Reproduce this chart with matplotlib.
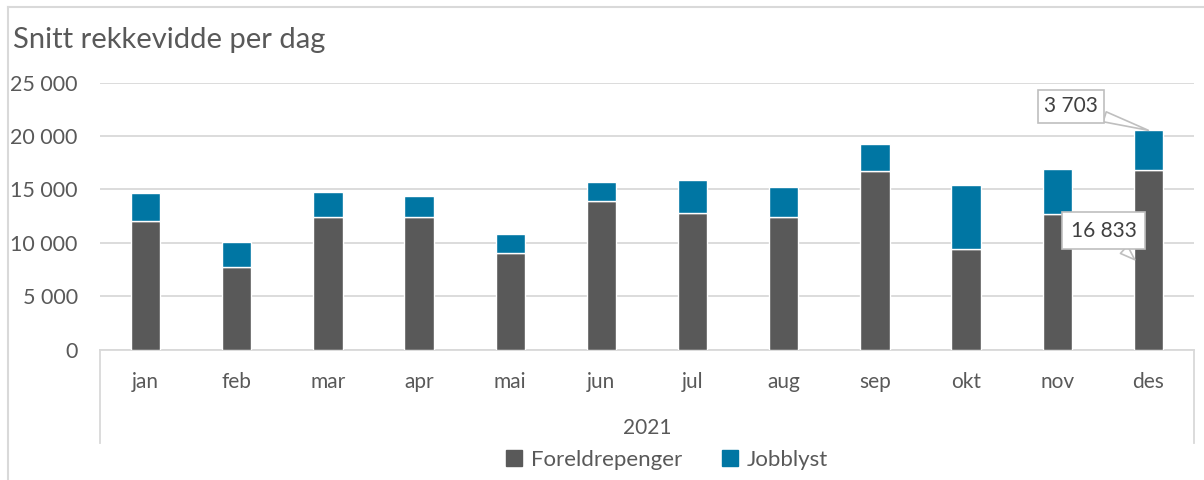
import matplotlib
matplotlib.use("Agg")
import matplotlib.pyplot as plt
from matplotlib.lines import Line2D
from matplotlib.patches import Patch
from matplotlib.ticker import FuncFormatter

# ---- data ----
months = ["jan", "feb", "mar", "apr", "mai", "jun", "jul", "aug", "sep", "okt", "nov", "des"]
foreldrepenger = [12000, 7700, 12450, 12450, 9050, 13900, 12800, 12400, 16700, 9420, 12700, 16833]
jobblyst = [2650, 2350, 2280, 1970, 1780, 1750, 3050, 2870, 2600, 6000, 4250, 3703]
year_label = "2021"
title = "Snitt rekkevidde per dag"
series_names = ["Foreldrepenger", "Jobblyst"]
yticks = [0, 5000, 10000, 15000, 20000, 25000]

# ---- style ----
FONT = "Lato"
TXT = "#595959"
GRID = "#d9d9d9"
C_DARK = "#595959"
C_BLUE = "#0076a3"
W, H = 1204, 480

plt.rcParams["font.family"] = [FONT, "DejaVu Sans"]

def fmt(v, pos=None):
    return f"{int(round(v)):,}".replace(",", " ")

fig = plt.figure(figsize=(W / 100, H / 100), dpi=100)
y0, y1 = 349.5, 82.7
ax = fig.add_axes([100 / W, 1 - y0 / H, 1094 / W, (y0 - y1) / H])

x = list(range(len(months)))
bw = 0.32
ax.bar(x, foreldrepenger, width=bw, color=C_DARK, edgecolor="white", linewidth=1.0, zorder=3)
ax.bar(x, jobblyst, width=bw, bottom=foreldrepenger, color=C_BLUE, edgecolor="white",
       linewidth=1.0, zorder=3)

ax.set_xlim(-0.5, len(months) - 0.5)
ax.set_ylim(0, 25000)
ax.set_yticks(yticks)
ax.yaxis.set_major_formatter(FuncFormatter(fmt))
ax.set_xticks(x)
ax.set_xticklabels(months)
ax.grid(axis="y", color=GRID, linewidth=1.3, zorder=0)
ax.set_axisbelow(True)
for s in ["top", "right", "left"]:
    ax.spines[s].set_visible(False)
ax.spines["bottom"].set_color(GRID)
ax.spines["bottom"].set_linewidth(1.3)
ax.tick_params(axis="y", length=0, pad=16, labelsize=15.5, labelcolor=TXT)
ax.tick_params(axis="x", length=0, pad=16, labelsize=15, labelcolor=TXT)

# category-axis side lines (multi-level axis)
bottom_ext = (y0 - 443) / (y0 - y1)
for xa in (0, 1):
    ax.add_line(Line2D([xa, xa], [0, bottom_ext], transform=ax.transAxes, color=GRID,
                       lw=1.3, clip_on=False))
ax.text(0.5, (y0 - 428) / (y0 - y1), year_label, transform=ax.transAxes, ha="center",
        va="center", fontsize=15, color=TXT)

# title
fig.text(13 / W, 1 - 40 / H, title, ha="left", va="center", fontsize=21, color=TXT)

# outer chart border
fig.add_artist(Line2D([7.5 / W, 7.5 / W], [0, 1 - 6.5 / H], transform=fig.transFigure,
                      color=GRID, lw=1.5))
fig.add_artist(Line2D([7.5 / W, 1], [1 - 6.5 / H, 1 - 6.5 / H], transform=fig.transFigure,
                      color=GRID, lw=1.5))

# legend
handles = [Patch(color=C_DARK), Patch(color=C_BLUE)]
fig.legend(handles, series_names, loc="center", bbox_to_anchor=(667 / W, 1 - 460 / H),
           ncol=2, frameon=False, fontsize=16, labelcolor=TXT, handlelength=0.7,
           handleheight=0.7, handletextpad=0.4, columnspacing=1.8)

# callouts for last month
last = len(months) - 1
px = 0.72
box = dict(boxstyle="square,pad=0.3", fc="white", ec="#bfbfbf", lw=1.2)
box2 = dict(boxstyle="square,pad=0.4", fc="white", ec="#bfbfbf", lw=1.2)
arrow = dict(arrowstyle="wedge,tail_width=0.5,shrink_factor=0.5", fc="white", ec="#bfbfbf",
             lw=1.2, shrinkA=0, shrinkB=0)
ax.annotate(fmt(jobblyst[last]), xy=(last, foreldrepenger[last] + jobblyst[last]),
            xytext=(-77.5 * px, 24 * px), textcoords="offset points", ha="center",
            va="center", fontsize=15, color="#404040", bbox=box, arrowprops=arrow, zorder=5)
ax.annotate(fmt(foreldrepenger[last]), xy=(last - 0.15, foreldrepenger[last] / 2),
            xytext=(-31 * px, 29 * px), textcoords="offset points", ha="center",
            va="center", fontsize=15, color="#404040", bbox=box2, arrowprops=arrow, zorder=5)

fig.savefig("out.png", dpi=100, facecolor="white")
